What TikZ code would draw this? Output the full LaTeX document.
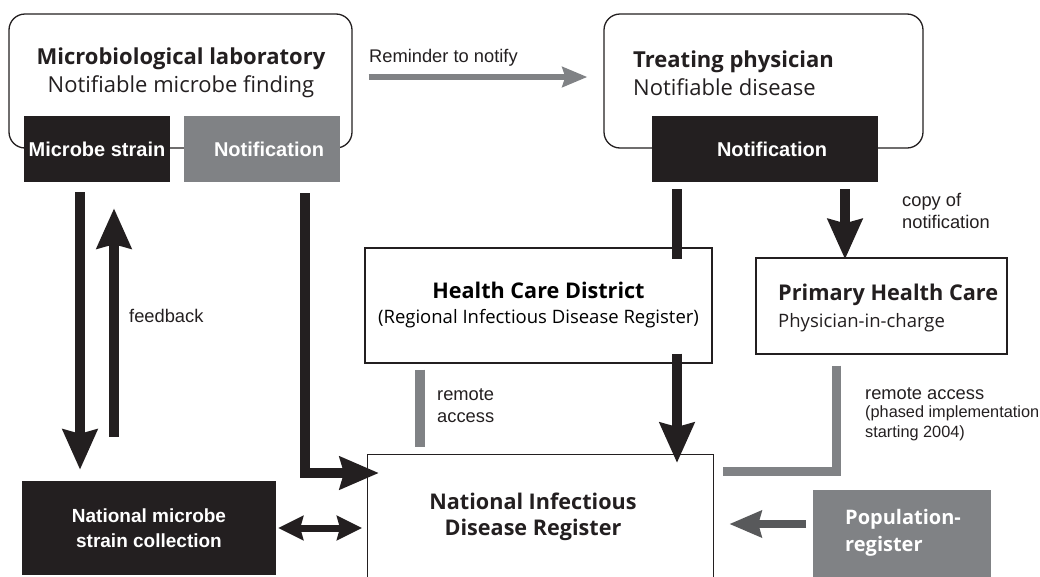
\documentclass[tikz,border=0pt]{standalone}
\usepackage{fontspec}
\setmainfont{Open Sans}
\newfontfamily\arialfont{Liberation Sans}
\usetikzlibrary{arrows.meta,positioning}
\definecolor{ink}{HTML}{231F20}
\definecolor{midgray}{HTML}{808285}
\definecolor{popgray}{HTML}{58595B}
\tikzset{
  box/.style={draw=ink, line width=1.3pt, fill=white, inner sep=0pt},
  roundbox/.style={box, rounded corners=16pt},
  inkbox/.style={fill=ink, text=white, inner sep=0pt, align=center, font=\arialfont\bfseries\fontsize{20}{24}\selectfont},
  graybox/.style={inkbox, fill=midgray},
  headtxt/.style={inner sep=0pt, text=ink, font=\fontsize{22}{28}\selectfont},
  lbl/.style={inner sep=0pt, anchor=west, align=left, text=ink, font=\arialfont\fontsize{18.3}{22}\selectfont},
  flow/.style={draw=ink, line width=10pt, -{Stealth[length=40pt,width=34pt,inset=4pt]}},
  thickbar/.style={draw=ink, line width=10pt},
  access/.style={draw=midgray, line width=9pt},
}
\begin{document}
\begin{tikzpicture}[x=1pt, y=-1pt]
\useasboundingbox (0,0) rectangle (1040,576);
\clip (0,0) rectangle (1040,576);
% Laboratorio
\node[roundbox, minimum width=343pt, minimum height=134pt] (lab) at (180.5,81) {};
\node[headtxt, align=center] (labtxt) at (181,73) {{\bfseries Microbiological laboratory}\\Notifiable microbe finding};
\node[inkbox, minimum width=146pt, minimum height=66pt] (strain) at (97,149) {Microbe strain};
\node[graybox, minimum width=156pt, minimum height=66pt] (labnote) at (262,149) {\hspace*{14pt}Notification};
% Medico tratante
\node[roundbox, minimum width=319pt, minimum height=134pt] (doc) at (763.5,81) {};
\node[headtxt, align=left, anchor=west] (doctxt) at (633,73) {{\bfseries Treating physician}\\Notifiable disease};
\node[inkbox, minimum width=226pt, minimum height=66pt] (docnote) at (765,149) {\hspace*{14pt}Notification};
% Distrito y atencion primaria
\node[box, minimum width=347pt, minimum height=115pt, align=center, font=\fontsize{18.5}{25}\selectfont] (hcd) at (538.5,305.5)
  {{\fontsize{21.6}{25}\selectfont\bfseries Health Care District}\\(Regional Infectious Disease Register)};
\node[box, minimum width=251pt, minimum height=96pt] (phc) at (881.5,306) {};
\node[headtxt, align=left, anchor=west, font=\fontsize{18.5}{27}\selectfont] (phctxt) at (778,308)
  {{\fontsize{21.7}{27}\selectfont\bfseries Primary Health Care}\\Physician-in-charge};
% Fila inferior
\node[box, minimum width=346pt, minimum height=140pt, anchor=north west] (nidr) at (367,454) {};
\node[headtxt, align=center, font=\fontsize{21.6}{26}\selectfont\bfseries] (nidrtxt) at (533,517) {National Infectious\\Disease Register};
\node[inkbox, minimum width=254pt, minimum height=94pt, font=\arialfont\bfseries\fontsize{19}{25}\selectfont] (coll) at (149,528) {National microbe\\strain collection};
\node[fill=midgray, minimum width=178pt, minimum height=100pt, anchor=north west, inner sep=0pt] (pop) at (813,490) {};
\node[headtxt, align=left, anchor=west, text=white, font=\fontsize{20}{27}\selectfont\bfseries] (poptxt) at (845,533) {Population-\\register};
% Recordatorio
\draw[draw=midgray, line width=6.5pt, -{Stealth[length=25pt,width=20pt,inset=3pt]}, shorten <=16pt, shorten >=16pt] ([yshift=4pt]lab.east) -- ([yshift=4pt]doc.west);
\node[lbl] (remtxt) at (369,58) {Reminder to notify};
% Cepas y retroalimentacion
\draw[flow, shorten <=10pt, shorten >=11pt] ([xshift=-17pt]strain.south) -- ([xshift=-17pt]strain.south |- coll.north);
\draw[flow, shorten <=44pt, shorten >=26pt] ([xshift=17pt]strain.south |- coll.north) -- ([xshift=17pt]strain.south);
\node[lbl] (fbtxt) at (129,316) {feedback};
% Notificacion del laboratorio al registro
\draw[flow, -{Stealth[length=39pt,width=32pt,inset=4pt]}, shorten <=11pt, shorten >=-12pt] ([xshift=43pt]labnote.south) |- ([yshift=-19pt]nidr.north west);
\draw[draw=ink, line width=7pt, {Stealth[length=25pt,width=24pt,inset=3pt]}-{Stealth[length=25pt,width=24pt,inset=3pt]}, shorten <=2pt, shorten >=5pt] (coll.east) -- (coll.east -| nidr.west);
% Notificacion del medico
\draw[thickbar, shorten <=7pt, shorten >=-12pt] ([xshift=-88pt]docnote.south) -- ([xshift=-88pt]docnote.south |- hcd.north);
\draw[flow, shorten <=7pt, shorten >=-2pt] ([xshift=80pt]docnote.south) -- ([xshift=80pt]docnote.south |- phc.north);
\node[lbl] (copytxt) at (902,211) {copy of\\notification};
% Distrito al registro nacional
\draw[flow, shorten <=-10pt, shorten >=-9pt] ([xshift=138.5pt]hcd.south) -- ([xshift=138.5pt]hcd.south |- nidr.north);
\draw[access, line width=10pt, shorten <=6pt, shorten >=7pt] ([xshift=-118.5pt]hcd.south) -- ([xshift=-118.5pt]hcd.south |- nidr.north);
\node[lbl] (hcdacc) at (437,406) {remote\\access};
% Acceso remoto de atencion primaria
\draw[access, shorten <=11pt] ([xshift=-45.5pt]phc.south) |- ([shift={(9pt,-17pt)}]nidr.north east);
\node[lbl] (phcacc) at (865,394) {remote access};
\node[lbl, anchor=north west, font=\arialfont\fontsize{16.3}{20}\selectfont] (phcnote) at ([yshift=-5pt]phcacc.south west) {(phased implementation\\starting 2004)};
% Registro de poblacion
\draw[draw=popgray, line width=8pt, -{Stealth[length=32pt,width=26pt,inset=3pt]}, shorten <=7pt, shorten >=15pt] ([yshift=-34pt]pop.north west) -- ([yshift=-34pt]pop.north west -| nidr.east);
\end{tikzpicture}
\end{document}
